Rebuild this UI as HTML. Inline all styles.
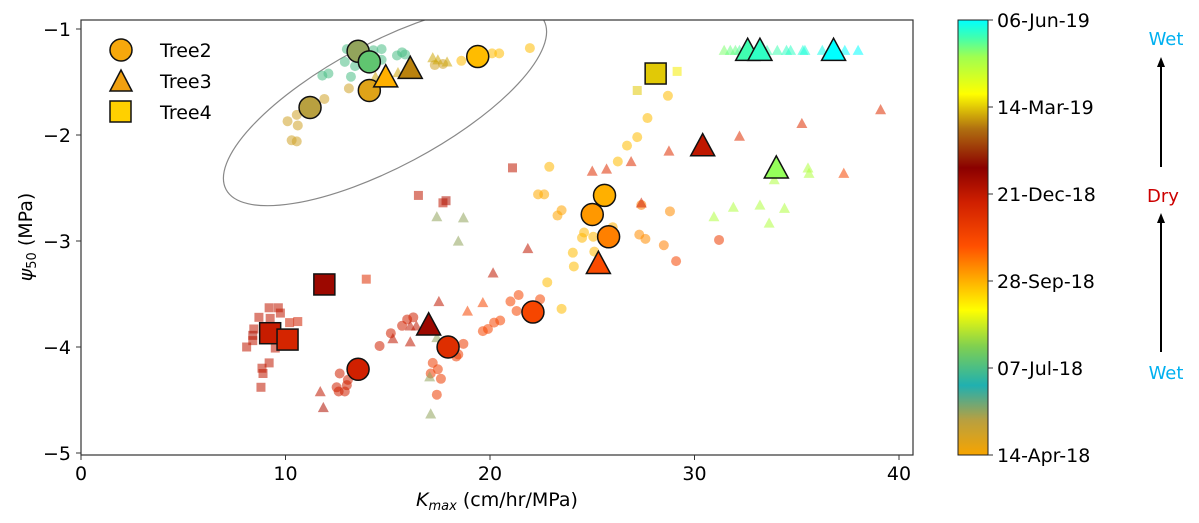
<!DOCTYPE html>
<html><head><meta charset="utf-8">
<style>
body{margin:0;background:#fff;width:1199px;height:523px;overflow:hidden}
svg{display:block;font-family:"DejaVu Sans","Liberation Sans",sans-serif}
</style></head>
<body>
<svg id="chart" width="1199" height="523" viewBox="0 0 1199 523" xmlns="http://www.w3.org/2000/svg">
<defs>
<linearGradient id="cbgrad" x1="0" y1="1" x2="0" y2="0">
<stop offset="0" stop-color="#f7a400"/><stop offset="0.08" stop-color="#b8a040"/><stop offset="0.16" stop-color="#20b0b0"/><stop offset="0.25" stop-color="#80d050"/><stop offset="0.333" stop-color="#ffff00"/><stop offset="0.4" stop-color="#ffb000"/><stop offset="0.48" stop-color="#ff5000"/><stop offset="0.58" stop-color="#d02000"/><stop offset="0.66" stop-color="#8b0000"/><stop offset="0.75" stop-color="#b07010"/><stop offset="0.83" stop-color="#ffff00"/><stop offset="0.915" stop-color="#a0ff50"/><stop offset="0.96" stop-color="#40ffb0"/><stop offset="1" stop-color="#00ffff"/>
</linearGradient>
<clipPath id="plotclip"><rect x="81" y="20" width="832" height="435"/></clipPath>
</defs>
<g id="marks" clip-path="url(#plotclip)"></g>
<rect x="81" y="20" width="832" height="435" fill="none" stroke="#333" stroke-width="1.2"/>
<g id="axes"></g>
<text x="497" y="506" font-size="19" text-anchor="middle"><tspan font-style="italic">K</tspan><tspan font-style="italic" font-size="13" dy="4">max</tspan><tspan dy="-4"> (cm/hr/MPa)</tspan></text>
<text transform="translate(32,237) rotate(-90)" font-size="19" text-anchor="middle"><tspan font-style="italic">ψ</tspan><tspan font-size="13" dy="4">50</tspan><tspan dy="-4"> (MPa)</tspan></text>
<g font-size="19">
<circle cx="121" cy="50" r="11" fill="#f7a80c" stroke="#111" stroke-width="1.5"/>
<text x="160" y="57">Tree2</text>
<polygon points="121,70 132,91 110,91" fill="#f0a010" stroke="#111" stroke-width="1.5"/>
<text x="160" y="88">Tree3</text>
<rect x="110" y="101" width="21" height="21" fill="#ffd000" stroke="#111" stroke-width="1.5"/>
<text x="160" y="119">Tree4</text>
</g>
<g>
<rect x="958" y="20" width="30" height="435" fill="url(#cbgrad)" stroke="#222" stroke-width="1"/>
<g id="cbticks" font-size="19"></g>
</g>
<g>
<text x="1166" y="45" font-size="18" fill="#00b0f0" text-anchor="middle">Wet</text>
<line x1="1161" y1="167" x2="1161" y2="66" stroke="#000" stroke-width="2"/>
<polygon points="1161,57 1157,67 1165,67" fill="#000"/>
<text x="1163" y="202" font-size="18" fill="#cc0000" text-anchor="middle">Dry</text>
<line x1="1161" y1="352" x2="1161" y2="222" stroke="#000" stroke-width="2"/>
<polygon points="1161,213 1157,223 1165,223" fill="#000"/>
<text x="1166" y="379" font-size="18" fill="#00b0f0" text-anchor="middle">Wet</text>
</g>
</svg>
<script>
const xTicks=[0,10,20,30,40];
const yTicks=[-1,-2,-3,-4,-5];
const cbLabels=["14-Apr-18","07-Jul-18","28-Sep-18","21-Dec-18","14-Mar-19","06-Jun-19"];
// [Kmax, psi50, dateFraction]
const tree2Big=[[11.2,-1.74,.08],[13.55,-1.21,.1],[14.1,-1.31,.22],[14.1,-1.58,.03],[19.4,-1.26,.39],[25.6,-2.57,.4],[25.0,-2.75,.42],[25.8,-2.96,.44],[22.1,-3.67,.5],[17.95,-4.0,.55],[13.55,-4.21,.58]];
const tree3Big=[[14.9,-1.45,.4],[16.1,-1.37,.76],[17.0,-3.79,.64],[25.3,-3.21,.49],[30.4,-2.1,.6],[34.0,-2.31,.92],[32.6,-1.2,.96],[33.2,-1.2,.97],[36.8,-1.2,1.0]];
const tree4Big=[[11.9,-3.41,.64],[9.25,-3.87,.59],[10.1,-3.93,.57],[28.1,-1.42,.8]];
const tree2Small=[[13.0,-1.19,.2],[13.3,-1.2,.2],[14.3,-1.2,.2],[14.7,-1.19,.2],[14.7,-1.29,.2],[12.9,-1.31,.2],[13.4,-1.35,.2],[15.45,-1.25,.2],[15.7,-1.22,.2],[15.85,-1.24,.2],[12.1,-1.42,.2],[11.8,-1.44,.2],[13.2,-1.45,.2],
[13.1,-1.56,.05],[11.9,-1.66,.05],[10.1,-1.87,.05],[10.55,-1.81,.05],[10.6,-1.91,.05],[10.3,-2.05,.05],[10.55,-2.06,.05],[17.3,-1.34,.05],[17.7,-1.33,.05],
[18.6,-1.3,.39],[20.1,-1.23,.39],[20.45,-1.23,.39],[21.95,-1.18,.39],
[28.7,-1.63,.39],[27.7,-1.84,.39],[27.2,-2.02,.39],[26.7,-2.1,.39],[26.25,-2.25,.39],[22.9,-2.3,.395],
[22.8,-3.39,.39],[23.5,-3.64,.39],[24.05,-3.11,.39],[24.1,-3.24,.39],[24.5,-2.97,.395],[24.6,-2.92,.395],[25.05,-2.96,.395],[25.1,-3.1,.395],[26.0,-2.87,.4],
[22.35,-2.56,.405],[22.65,-2.56,.405],[23.5,-2.71,.41],[23.3,-2.76,.41],
[27.4,-2.66,.44],[28.8,-2.72,.43],[27.3,-2.94,.43],[27.6,-2.98,.43],[28.5,-3.04,.44],[29.1,-3.19,.5],[31.2,-2.99,.52],
[19.65,-3.85,.5],[19.9,-3.83,.5],[20.2,-3.77,.5],[20.5,-3.75,.5],[21.0,-3.57,.5],[21.4,-3.51,.5],[21.3,-3.66,.5],[22.45,-3.55,.5],
[17.2,-4.15,.52],[17.45,-4.21,.52],[17.1,-4.25,.52],[17.6,-4.3,.52],[17.4,-4.45,.52],[18.7,-3.97,.52],[18.35,-4.09,.52],[18.45,-4.07,.52],
[14.6,-3.99,.58],[15.15,-3.87,.58],[15.7,-3.8,.58],[15.95,-3.74,.58],[16.25,-3.72,.58],[12.65,-4.25,.58],[13.05,-4.31,.58],[12.5,-4.38,.58],[13.0,-4.36,.58],[12.6,-4.42,.58],[12.9,-4.42,.58]];
const tree3Small=[[17.2,-1.27,.78],[17.45,-1.29,.78],[17.9,-1.31,.78],[15.5,-1.41,.78],[14.4,-1.45,.78],
[17.4,-2.77,.1],[18.7,-2.78,.1],[18.45,-3.0,.1],[17.05,-4.28,.1],[17.1,-4.63,.1],[17.4,-3.91,.1],
[21.85,-3.07,.6],[20.15,-3.3,.6],[17.5,-3.57,.6],[16.1,-3.8,.6],[16.4,-3.8,.6],[15.25,-3.92,.6],[16.1,-3.95,.6],[11.7,-4.42,.6],[11.85,-4.57,.62],
[19.65,-3.58,.5],[18.9,-3.66,.5],
[39.1,-1.76,.55],[35.25,-1.89,.55],[32.2,-2.01,.55],[28.75,-2.15,.55],[26.9,-2.25,.55],[25.7,-2.32,.55],[25.0,-2.34,.55],[37.3,-2.36,.5],[27.4,-2.64,.58],
[35.55,-2.31,.9],[35.6,-2.36,.9],[33.9,-2.42,.9],[30.95,-2.77,.9],[31.9,-2.68,.9],[33.2,-2.66,.9],[34.4,-2.69,.9],[33.65,-2.83,.9],
[31.45,-1.2,.93],[31.75,-1.2,.94],[32.0,-1.2,.94],[32.2,-1.2,.95],[32.45,-1.2,.95],[33.55,-1.2,.96],[34.05,-1.2,.96],[34.5,-1.2,.97],[34.7,-1.2,.97],[35.3,-1.2,.98],[35.4,-1.2,.98],[36.25,-1.2,.99],[37.35,-1.2,1.0],[38.0,-1.2,1.0]];
const tree4Small=[[21.1,-2.31,.6],[16.5,-2.57,.6],[17.7,-2.64,.6],[17.85,-2.62,.62],[13.95,-3.36,.55],
[9.2,-3.63,.6],[9.65,-3.63,.6],[9.75,-3.68,.6],[8.7,-3.72,.6],[9.25,-3.73,.6],[10.2,-3.77,.58],[10.6,-3.76,.58],[8.45,-3.83,.6],[8.4,-3.89,.62],[8.4,-3.94,.6],[8.1,-4.0,.6],[9.5,-4.01,.6],[9.2,-4.15,.6],[8.85,-4.2,.6],[8.9,-4.25,.6],[8.8,-4.38,.6],
[29.15,-1.4,.82],[27.2,-1.58,.8]];

const NS="http://www.w3.org/2000/svg";
const X0=81,XS=20.45,Y0=29,YS=106;
function sx(v){return X0+v*XS;}
function sy(v){return Y0+(-1-v)*YS;}
const stops=[[0,[247,164,0]],[.08,[184,160,64]],[.16,[32,176,176]],[.25,[128,208,80]],[.333,[255,255,0]],[.4,[255,176,0]],[.48,[255,80,0]],[.58,[208,32,0]],[.66,[139,0,0]],[.75,[176,112,16]],[.83,[255,255,0]],[.915,[160,255,80]],[.96,[64,255,176]],[1,[0,255,255]]];
function cmap(t){for(let i=1;i<stops.length;i++){if(t<=stops[i][0]){const a=stops[i-1],b=stops[i];const f=(t-a[0])/(b[0]-a[0]);const c=a[1].map((v,k)=>Math.round(v+(b[1][k]-v)*f));return `rgb(${c[0]},${c[1]},${c[2]})`;}}return 'rgb(0,255,255)';}
function mk(tag,attrs){const e=document.createElementNS(NS,tag);for(const k in attrs)e.setAttribute(k,attrs[k]);return e;}
const marks=document.getElementById('marks');
const ell=mk('ellipse',{cx:385,cy:105,rx:180,ry:62,transform:'rotate(-28 385 105)',fill:'none',stroke:'#888','stroke-width':1.2});


marks.appendChild(ell);
function drawPoint(d,shape,big,name){
  const x=sx(d[0]),y=sy(d[1]),col=cmap(d[2]);let e;
  const st=big?{stroke:'#111','stroke-width':1.5,fill:col}:{fill:col,'fill-opacity':0.55,stroke:'none'};
  if(shape==='c'){e=mk('circle',Object.assign({cx:x,cy:y,r:big?11:5},st));}
  else if(shape==='t'){const h=big?12:5.5;e=mk('polygon',Object.assign({points:`${x},${y-h} ${x+h},${y+h*0.85} ${x-h},${y+h*0.85}`},st));}
  else{const h=big?10.5:4.5;e=mk('rect',Object.assign({x:x-h,y:y-h,width:2*h,height:2*h},st));}
  
  
  marks.appendChild(e);
}
tree2Small.forEach(d=>drawPoint(d,'c',false,'tree2-point'));
tree3Small.forEach(d=>drawPoint(d,'t',false,'tree3-point'));
tree4Small.forEach(d=>drawPoint(d,'s',false,'tree4-point'));
tree2Big.forEach(d=>drawPoint(d,'c',true,'tree2-mean-point'));
tree3Big.forEach(d=>drawPoint(d,'t',true,'tree3-mean-point'));
tree4Big.forEach(d=>drawPoint(d,'s',true,'tree4-mean-point'));
const axes=document.getElementById('axes');
xTicks.forEach(v=>{const x=sx(v);
  axes.appendChild(mk('line',{x1:x,y1:455,x2:x,y2:460,stroke:'#333','stroke-width':1}));
  const t=mk('text',{x:x,y:480,'font-size':19,'text-anchor':'middle'});t.textContent=v;
  
  
  axes.appendChild(t);});
yTicks.forEach(v=>{const y=sy(v);
  axes.appendChild(mk('line',{x1:76,y1:y,x2:81,y2:y,stroke:'#333','stroke-width':1}));
  const t=mk('text',{x:71,y:y+7,'font-size':19,'text-anchor':'end'});t.textContent='\u2212'+Math.abs(v);
  
  
  axes.appendChild(t);});
const cbt=document.getElementById('cbticks');
cbLabels.forEach((s,i)=>{const y=455-i*87;
  cbt.appendChild(mk('line',{x1:988,y1:y,x2:993,y2:y,stroke:'#333','stroke-width':1}));
  const t=mk('text',{x:997,y:y+7});t.textContent=s;
  
  
  cbt.appendChild(t);});
</script>
</body></html>
